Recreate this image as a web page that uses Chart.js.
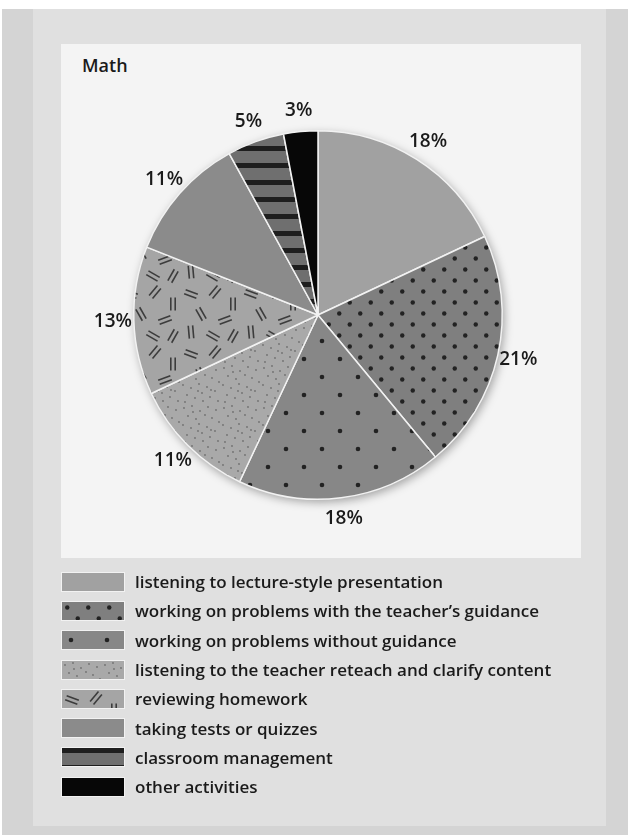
<!doctype html>
<html lang="en">
<head>
<meta charset="utf-8">
<title>Math</title>
<script src="https://cdn.jsdelivr.net/npm/chart.js@4"></script>
<style>
    body { margin: 0; width: 629px; height: 835px; background: #ffffff; position: relative; overflow: hidden;
           font-family: "Open Sans", "Liberation Sans", sans-serif; color: #1a1a1a; }
    .outer { position: absolute; left: 2px; top: 9px; width: 626px; height: 826px; background: #d4d4d4; }
    .inner { position: absolute; left: 33px; top: 9px; width: 573px; height: 817px; background: #e0e0e0; }
    .chart-box { position: absolute; left: 61px; top: 44px; width: 520px; height: 514px; background: #f4f4f4; }
    .chart-box canvas { position: absolute; left: 0; top: 0; }
    .title { position: absolute; left: 21px; top: 9px; font-size: 18px; font-weight: 600; }
    .legend { position: absolute; left: 62px; top: 567px; }
    .legend-row { display: flex; align-items: center; height: 29.3px; }
    .legend-row canvas { width: 62px; height: 18px; box-shadow: 0 0 0 1px #f2f2f2; margin-right: 11px; }
    .legend-row span { font-size: 17px; font-weight: 600; white-space: nowrap; }
</style>
</head>
<body>
<div class="outer"></div>
<div class="inner"></div>
<div class="chart-box">
    <div class="title">Math</div>
    <canvas id="pie" width="520" height="514"></canvas>
</div>
<div class="legend" id="legend"></div>

<script>
    // data, clockwise from 12 o'clock
    const categories = [
        'listening to lecture-style presentation',
        'working on problems with the teacher\u2019s guidance',
        'working on problems without guidance',
        'listening to the teacher reteach and clarify content',
        'reviewing homework',
        'taking tests or quizzes',
        'classroom management',
        'other activities'
    ];
    const shares = [18, 21, 18, 11, 13, 11, 5, 3];
    const percentLabels = ['18%', '21%', '18%', '11%', '13%', '11%', '5%', '3%'];

    // fill styles
    const fills = ['solid', 'denseDots', 'sparseDots', 'fineDots', 'dashes', 'solid', 'stripes', 'solid'];
    const baseColors = ['#a1a1a1', '#7f7f7f', '#878787', '#a9a9a9', '#a5a5a5', '#8b8b8b', '#6f6f6f', '#070707'];

    // fixed positions for the speckle tile (40x40)
    const speckles = [[3,4],[11,2],[19,7],[27,3],[35,6],[7,12],[15,15],[24,11],[31,14],[38,18],
                      [2,21],[10,24],[18,20],[26,23],[34,27],[6,31],[14,34],[21,29],[29,33],[37,37],
                      [4,38],[12,8],[22,37],[30,26],[17,27]];
    // dash pairs in the homework tile (60x60): x, y, angle in degrees
    const dashPairs = [[10,10,20],[34,8,-50],[52,20,90],[20,30,60],[44,36,-20],[10,48,85],[32,52,30],[52,52,-60]];

    function makeFill(kind, color) {
        if (kind === 'solid') return color;
        const c = document.createElement('canvas');
        let w = 20, h = 20;
        if (kind === 'denseDots') { w = 21; h = 22; }
        if (kind === 'sparseDots') { w = 36; h = 36; }
        if (kind === 'fineDots') { w = 40; h = 40; }
        if (kind === 'dashes') { w = 60; h = 60; }
        if (kind === 'stripes') { w = 17; h = 17; }
        c.width = w; c.height = h;
        const g = c.getContext('2d');
        g.fillStyle = color;
        g.fillRect(0, 0, w, h);
        if (kind === 'denseDots' || kind === 'sparseDots') {
            g.fillStyle = '#222222';
            const r = kind === 'denseDots' ? 2.2 : 2.3;
            [[w / 4, h / 4], [w * 3 / 4, h * 3 / 4]].forEach(p => {
                g.beginPath(); g.arc(p[0], p[1], r, 0, Math.PI * 2); g.fill();
            });
        } else if (kind === 'fineDots') {
            g.fillStyle = '#707070';
            speckles.forEach(p => { g.beginPath(); g.arc(p[0], p[1], 0.9, 0, Math.PI * 2); g.fill(); });
        } else if (kind === 'dashes') {
            g.strokeStyle = '#3c3c3c';
            g.lineWidth = 1.6;
            dashPairs.forEach(d => {
                g.save();
                g.translate(d[0], d[1]);
                g.rotate(d[2] * Math.PI / 180);
                [-2.2, 2.2].forEach(o => {
                    g.beginPath(); g.moveTo(-6.5, o); g.lineTo(6.5, o); g.stroke();
                });
                g.restore();
            });
        } else if (kind === 'stripes') {
            g.fillStyle = '#1e1e1e';
            g.fillRect(0, 0, w, 5);
        }
        return g.createPattern(c, 'repeat');
    }

    const patterns = fills.map((k, i) => makeFill(k, baseColors[i]));

    // soft shadow under the pie
    const pieShadow = {
        id: 'pieShadow',
        beforeDatasetsDraw(chart) {
            const arc = chart.getDatasetMeta(0).data[0];
            if (!arc) return;
            const ctx = chart.ctx;
            ctx.save();
            ctx.shadowColor = 'rgba(0,0,0,0.35)';
            ctx.shadowBlur = 10;
            ctx.shadowOffsetX = 2;
            ctx.shadowOffsetY = 3;
            ctx.fillStyle = '#9a9a9a';
            ctx.beginPath();
            ctx.arc(arc.x, arc.y, arc.outerRadius, 0, Math.PI * 2);
            ctx.fill();
            ctx.restore();
        }
    };

    // percentage labels outside each slice
    const outsideLabels = {
        id: 'outsideLabels',
        afterDatasetsDraw(chart) {
            const ctx = chart.ctx;
            ctx.save();
            ctx.font = '600 19px "Open Sans", sans-serif';
            ctx.fillStyle = '#1a1a1a';
            ctx.textAlign = 'center';
            ctx.textBaseline = 'middle';
            chart.getDatasetMeta(0).data.forEach((arc, i) => {
                const mid = (arc.startAngle + arc.endAngle) / 2;
                const r = arc.outerRadius + 21;
                ctx.fillText(percentLabels[i], arc.x + Math.cos(mid) * r, arc.y + Math.sin(mid) * r);
            });
            ctx.restore();
        }
    };

    new Chart(document.getElementById('pie'), {
        type: 'pie',
        data: {
            labels: categories,
            datasets: [{
                data: shares,
                backgroundColor: patterns,
                borderColor: '#f2f2f2',
                borderWidth: 1.5
            }]
        },
        options: {
            responsive: false,
            animation: false,
            layout: { padding: { left: 72, right: 78, top: 86, bottom: 58 } },
            plugins: {
                legend: { display: false },
                tooltip: { enabled: false }
            }
        },
        plugins: [pieShadow, outsideLabels]
    });

    // legend list below the chart
    const legend = document.getElementById('legend');
    categories.forEach((name, i) => {
        const row = document.createElement('div');
        row.className = 'legend-row';
        const sw = document.createElement('canvas');
        sw.width = 62; sw.height = 18;
        const g = sw.getContext('2d');
        g.fillStyle = makeFill(fills[i], baseColors[i]);
        g.fillRect(0, 0, 62, 18);
        const label = document.createElement('span');
        label.textContent = name;
        row.appendChild(sw);
        row.appendChild(label);
        legend.appendChild(row);
    });
</script>
</body>
</html>
